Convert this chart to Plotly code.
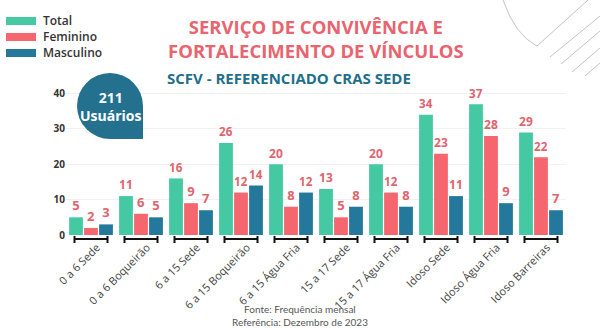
import plotly.graph_objects as go

# SCFV attendance, December 2023
categories = ["0 a 6 Sede", "0 a 6 Boqueirão", "6 a 15 Sede", "6 a 15 Boqueirão",
              "6 a 15 Água Fria", "15 a 17 Sede", "15 a 17 Água Fria", "Idoso Sede",
              "Idoso Água Fria", "Idoso Barreiras"]
total = [5, 11, 16, 26, 20, 13, 20, 34, 37, 29]
feminino = [2, 6, 9, 12, 8, 5, 12, 23, 28, 22]
masculino = [3, 5, 7, 14, 12, 8, 8, 11, 9, 7]
series_names = ["Total", "Feminino", "Masculino"]
y_ticks = [0, 10, 20, 30, 40]
total_users = 211

colors = ["#45c9a3", "#f6666f", "#23789b"]
label_color = "#e0646e"
W, H = 600, 332
L, R, T, B = 66, 566, 90, 235  # plot area in pixels


def px(x, y):
    """Pixel position -> paper coordinates."""
    return (x - L) / (R - L), (B - y) / (B - T)


xs = list(range(len(categories)))
fig = go.Figure()
for name, vals, col in zip(series_names, [total, feminino, masculino], colors):
    fig.add_trace(go.Bar(
        x=xs, y=vals, name=name, marker=dict(color=col, line=dict(width=0)),
        text=[str(v) for v in vals], textposition="outside", cliponaxis=False,
        textfont=dict(family="Open Sans", size=13, color=label_color, weight=700),
        showlegend=False,
    ))

shapes = []
# bracket under each group
for i in xs:
    x0, x1 = i - 0.33, i + 0.33
    yb = px(0, 239)[1]
    yc0, yc1 = px(0, 236)[1], px(0, 243)[1]
    shapes.append(dict(type="line", xref="x", yref="paper", x0=x0, x1=x1, y0=yb, y1=yb,
                       line=dict(color="#111", width=2)))
    for xe in (x0, x1):
        shapes.append(dict(type="line", xref="x", yref="paper", x0=xe, x1=xe, y0=yc0, y1=yc1,
                           line=dict(color="#111", width=2)))

# legend keys
annotations = []
for k, (name, col) in enumerate(zip(series_names, colors)):
    cy = 21 + k * 16
    a0 = px(6, cy - 4)
    a1 = px(36, cy + 4)
    shapes.append(dict(type="rect", xref="paper", yref="paper", x0=a0[0], x1=a1[0],
                       y0=a1[1], y1=a0[1], fillcolor=col, line=dict(width=0)))
    p = px(41, cy)
    annotations.append(dict(text=name, x=p[0], y=p[1], xref="paper", yref="paper",
                            xanchor="left", yanchor="middle", showarrow=False,
                            font=dict(family="Open Sans", size=12, color="#333", weight=600)))

# users badge: circle with a squared bottom-right corner
bc = px(110, 106)
badge_col = "#24718f"
shapes.append(dict(type="circle", xref="paper", yref="paper", xsizemode="pixel",
                   ysizemode="pixel", xanchor=bc[0], yanchor=bc[1],
                   x0=-33, x1=33, y0=-33, y1=33, fillcolor=badge_col, line=dict(width=0)))
shapes.append(dict(type="rect", xref="paper", yref="paper", xsizemode="pixel",
                   ysizemode="pixel", xanchor=bc[0], yanchor=bc[1],
                   x0=0, x1=33, y0=-33, y1=0, fillcolor=badge_col, line=dict(width=0)))
annotations.append(dict(text=f"{total_users}<br>Usuários", x=bc[0], y=bc[1], xref="paper",
                        yref="paper", showarrow=False, xanchor="center", yanchor="middle",
                        font=dict(family="Open Sans", size=14, color="white", weight=700)))

# thin decorative strokes, top right
deco = "#b5b5b5"
p0, p1, p2, p3 = px(503, 0), px(515, 35), px(537, 46), px(588, 0)
shapes.append(dict(type="path", xref="paper", yref="paper",
                   path=f"M {p0[0]},{p0[1]} Q {p1[0]},{p1[1]} {p2[0]},{p2[1]} L {p3[0]},{p3[1]}",
                   line=dict(color=deco, width=0.8)))
for a, b in [((550, 57), (600, 16)), ((561, 64), (600, 31)),
             ((572, 72), (600, 48)), ((585, 76), (600, 63))]:
    q0, q1 = px(*a), px(*b)
    shapes.append(dict(type="line", xref="paper", yref="paper", x0=q0[0], y0=q0[1],
                       x1=q1[0], y1=q1[1], line=dict(color=deco, width=0.8)))

# titles
for txt, x, y, size, col in [
        ("SERVIÇO DE CONVIVÊNCIA E<br>FORTALECIMENTO DE VÍNCULOS", 316, 39, 18.5, "#e8646e"),
        ("SCFV - REFERENCIADO CRAS SEDE", 289, 78, 15, "#1f6f8b")]:
    p = px(x, y)
    annotations.append(dict(text=txt, x=p[0], y=p[1], xref="paper", yref="paper",
                            showarrow=False, xanchor="center", yanchor="middle",
                            font=dict(family="Open Sans", size=size, color=col, weight=700)))

# source note
for txt, y in [("Fonte: Frequência mensal", 309), ("Referência: Dezembro de 2023", 322)]:
    p = px(300, y)
    annotations.append(dict(text=txt, x=p[0], y=p[1], xref="paper", yref="paper",
                            showarrow=False, xanchor="center", yanchor="middle",
                            font=dict(family="Lato", size=10, color="#555")))

fig.update_layout(
    width=W, height=H, margin=dict(l=L, r=W - R, t=T, b=H - B),
    paper_bgcolor="white", plot_bgcolor="white",
    barmode="group", bargap=0.1, bargroupgap=0.08,
    shapes=shapes, annotations=annotations,
    xaxis=dict(range=[-0.5, len(categories) - 0.5], tickvals=xs, ticktext=categories,
               tickangle=-45, ticklabelshift=6, ticklabelstandoff=3,
               tickfont=dict(family="Open Sans", size=11, color="#444"),
               showgrid=False, zeroline=False, showline=False, ticks=""),
    yaxis=dict(range=[0, 41], tickvals=y_ticks, showgrid=True, gridcolor="#f1f1f1",
               zeroline=False, showline=False, ticks="",
               tickfont=dict(family="Open Sans", size=10, color="#333", weight=700)),
)

fig.write_html("out.html")
